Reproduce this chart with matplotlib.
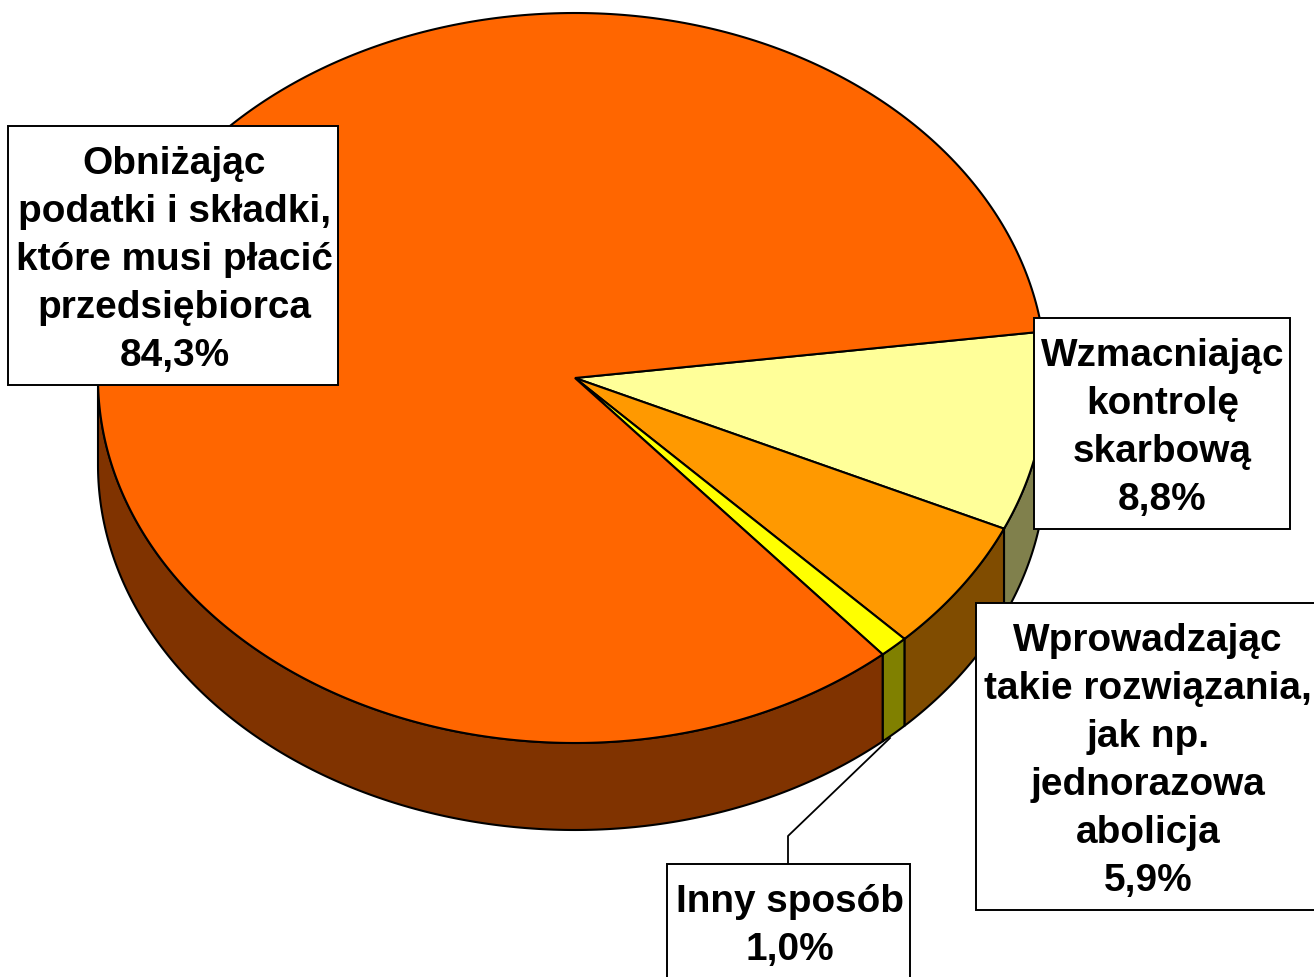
import numpy as np
import matplotlib
matplotlib.use("Agg")
import matplotlib.pyplot as plt
from matplotlib.patches import Polygon, Rectangle

labels = ["Wzmacniając\nkontrolę\nskarbową\n8,8%",
          "Wprowadzając\ntakie rozwiązania,\njak np.\njednorazowa\nabolicja\n5,9%",
          "Inny sposób\n1,0%",
          "Obniżając\npodatki i składki,\nktóre musi płacić\nprzedsiębiorca\n84,3%"]
values = [8.8, 5.9, 1.0, 84.3]
top_colors = ["#FFFF99", "#FF9900", "#FFFF00", "#FF6600"]
side_colors = ["#80804C", "#804C00", "#808000", "#803300"]
box_left = [1034, 976, 667, 8]
box_top = [318, 603, 864, 126]
box_right = [1290, 1320, 910, 338]
box_bottom = [529, 910, 985, 385]
text_cx = [1162.5, 1148, 789.5, 174.5]

CX, CY, RX_RIGHT, RX_LEFT, RY, DEPTH = 575, 378, 471, 477, 365, 87
START = 7.3

plt.rcParams["font.family"] = ["Liberation Sans", "DejaVu Sans"]
fig = plt.figure(figsize=(13.14, 9.77), dpi=100)
ax = fig.add_axes([0, 0, 1, 1])
ax.set_xlim(0, 1314)
ax.set_ylim(977, 0)
ax.axis("off")

def rim(a0, a1, n=200):
    t = np.radians(np.linspace(a0, a1, n))
    c = np.cos(t)
    return CX + np.where(c >= 0, RX_RIGHT, RX_LEFT) * c, CY - RY * np.sin(t)

edges = START - np.concatenate([[0], np.cumsum(values)]) * 3.6
lw = 1.5
# side walls: visible part of the lower half
for i in range(len(values)):
    hi, lo = edges[i], edges[i + 1]
    hi2, lo2 = min(hi, 0), max(lo, -180)
    if hi2 <= lo2:
        continue
    x, y = rim(hi2, lo2)
    pts = np.r_[np.c_[x, y], np.c_[x[::-1], y[::-1] + DEPTH]]
    ax.add_patch(Polygon(pts, closed=True, fc=side_colors[i], ec="black", lw=lw, zorder=2))
# top faces
for i in range(len(values)):
    x, y = rim(edges[i], edges[i + 1], 400)
    pts = np.r_[[[CX, CY]], np.c_[x, y]]
    ax.add_patch(Polygon(pts, closed=True, fc=top_colors[i], ec="black", lw=lw, zorder=3))

# leader line of the small slice (starts behind the wall)
ax.plot([890, 788, 788], [738, 836, 864], color="black", lw=1.3, zorder=1)

for i, txt in enumerate(labels):
    l, t, r, b = box_left[i], box_top[i], box_right[i], box_bottom[i]
    ax.add_patch(Rectangle((l, t), r - l, b - t, fc="white", ec="black", lw=1.4, zorder=5))
    top = t + 38
    for k, line in enumerate(txt.split("\n")):
        ax.text(text_cx[i], top + 48 * k, line, ha="center", va="center", fontsize=27.9,
                fontweight="bold", color="black", zorder=6)

fig.savefig("out.png", dpi=100)
